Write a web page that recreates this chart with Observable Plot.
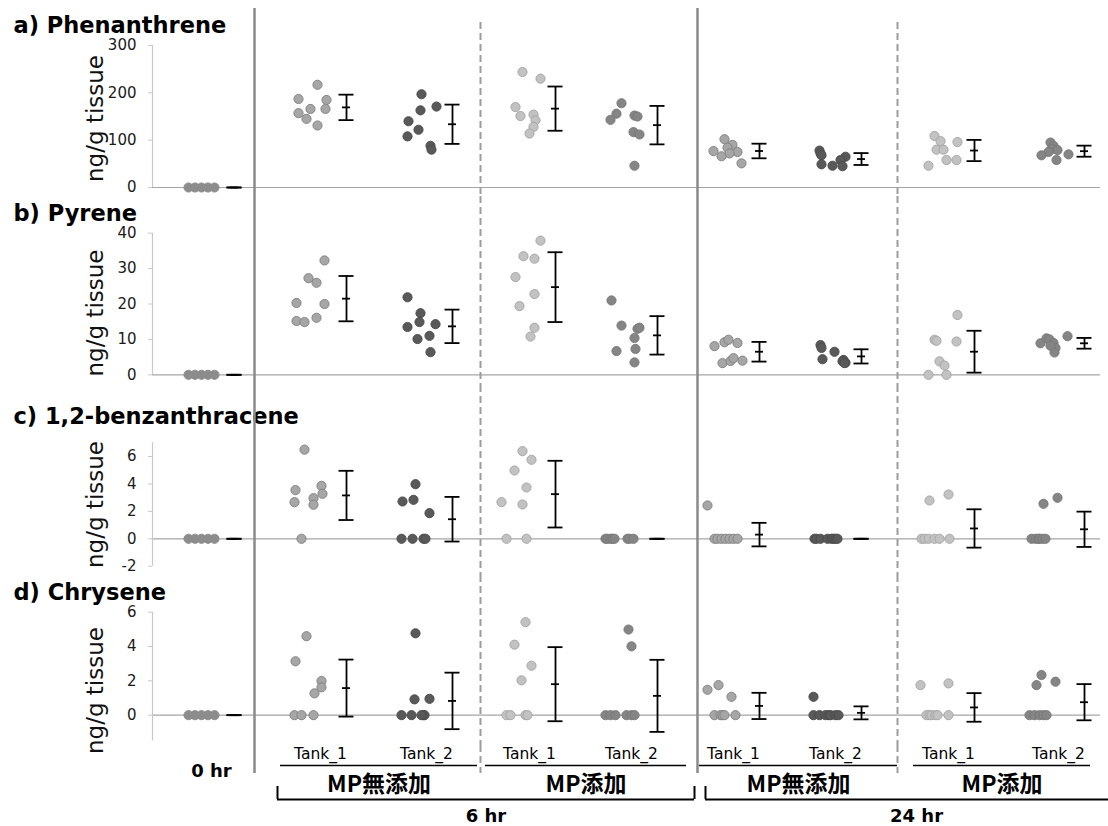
<!DOCTYPE html>
<html>
<head>
<meta charset="utf-8">
<script src="https://cdn.jsdelivr.net/npm/d3@7"></script>
<script src="https://cdn.jsdelivr.net/npm/@observablehq/plot@0.6"></script>
<style>
  body { margin: 0; background: #fff; }
  #chart { position: relative; width: 1108px; height: 826px; overflow: hidden; background: #fff; }
  #chart svg { position: absolute; left: 0; }
</style>
</head>
<body>
<div id="chart"></div>
<script>
// ---- groups (0 hr, then 6 hr and 24 hr tanks with / without MP) ----
const groupNames = ["0 hr", "Tank_1", "Tank_2", "Tank_1", "Tank_2", "Tank_1", "Tank_2", "Tank_1", "Tank_2"];
const groupX = [1, 2.12, 3.18, 4.21, 5.23, 6.25, 7.27, 8.40, 9.50];
const conditionNames = ["MP無添加", "MP添加", "MP無添加", "MP添加"];
const timeNames = ["6 hr", "24 hr"];
const solidDividers = [1.53, 5.96];
const dashedDividers = [3.79, 7.96];

// ---- individual concentrations (ng/g tissue), one list per group ----
const phenanthrene = [
  [0, 0, 0, 0, 0],
  [217, 187, 185, 166, 166, 157, 145, 131],
  [197, 140, 163, 171, 122, 108, 88, 80],
  [244, 230, 170, 151, 154, 142, 128, 114],
  [178, 156, 143, 152, 150, 117, 112, 46],
  [102, 90, 84, 77, 75, 72, 66, 51],
  [78, 72, 68, 65, 58, 49, 46, 45],
  [109, 98, 96, 80, 80, 58, 58, 46],
  [95, 88, 81, 79, 75, 68, 70, 58]
];
const phenanthreneJitter = [
  [-0.13, -0.065, 0, 0.065, 0.13],
  [0.04, -0.15, 0.13, -0.03, 0.12, -0.15, -0.07, 0.04],
  [0.02, -0.11, 0.01, 0.17, -0.01, -0.12, 0.11, 0.12],
  [0, 0.18, -0.07, -0.02, 0.11, 0.13, 0.11, 0.07],
  [-0.03, -0.08, -0.14, 0.10, 0.13, 0.09, 0.15, 0.10],
  [-0.02, 0.06, 0.01, -0.13, 0.11, 0.03, -0.05, 0.15],
  [-0.09, -0.08, -0.07, 0.17, 0.12, -0.07, 0.04, 0.14],
  [-0.07, -0.01, 0.16, -0.05, 0.02, 0.05, 0.15, -0.13],
  [-0.01, 0.02, 0, 0.06, -0.03, -0.10, 0.17, 0.05]
];

const pyrene = [
  [0, 0, 0, 0, 0],
  [32.3, 27.3, 26, 20.3, 20, 15.2, 14.9, 16.1],
  [21.9, 17.4, 14.9, 13.5, 14.3, 10.1, 11, 6.4],
  [37.9, 33.5, 32.8, 27.6, 22.8, 19.4, 13.3, 10.8],
  [21, 13.9, 13, 13.3, 10.4, 6.7, 7.3, 3.5],
  [8.1, 9.2, 9.9, 9, 3.3, 3.9, 4.7, 4],
  [8.4, 7.6, 6.5, 4.4, 4.2, 3.8, 3.4, 3.3],
  [16.9, 9.9, 9.6, 9.4, 3.8, 2.6, 0, 0],
  [8.9, 10.3, 10.0, 9.0, 7.6, 6.3, 10.9, 8.2]
];
const pyreneJitter = [
  [-0.13, -0.065, 0, 0.065, 0.13],
  [0.11, -0.05, 0.03, -0.17, 0.11, -0.17, -0.09, 0.03],
  [-0.12, 0.01, 0, -0.12, 0.16, -0.02, 0.10, 0.11],
  [0.18, 0.01, 0.12, -0.07, 0.12, -0.03, 0.12, 0.08],
  [-0.13, -0.03, 0.13, 0.15, 0.10, -0.08, 0.11, 0.10],
  [-0.12, -0.02, 0.02, 0.11, -0.04, 0.04, 0.07, 0.16],
  [-0.08, -0.07, 0.06, -0.06, 0.15, 0.14, 0.17, 0.16],
  [0.16, -0.07, -0.05, 0.15, -0.02, 0.03, -0.13, 0.05],
  [-0.11, -0.05, -0.02, 0.02, 0.04, 0.03, 0.16, -0.01]
];

const benzanthracene = [
  [0, 0, 0, 0, 0],
  [6.5, 3.55, 3.86, 2.96, 3.28, 2.67, 2.48, 0],
  [3.98, 2.72, 2.84, 1.87, 0, 0, 0, 0],
  [6.39, 5.76, 4.98, 3.74, 2.67, 2.5, 0, 0],
  [0, 0, 0, 0, 0, 0, 0, 0],
  [2.43, 0, 0, 0, 0, 0, 0, 0],
  [0, 0, 0, 0, 0, 0, 0, 0],
  [2.79, 3.23, 0, 0, 0, 0, 0, 0],
  [2.55, 2.99, 0, 0, 0, 0, 0, 0]
];
const benzanthraceneJitter = [
  [-0.13, -0.065, 0, 0.065, 0.13],
  [-0.09, -0.18, 0.08, 0, 0.09, -0.19, 0, -0.12],
  [-0.04, -0.17, -0.06, 0.10, -0.18, -0.07, 0.04, 0.06],
  [0, 0.09, -0.08, 0.04, -0.21, 0, -0.16, 0.04],
  [-0.19, -0.17, -0.14, -0.12, -0.10, 0.03, 0.05, 0.09],
  [-0.19, -0.12, -0.09, -0.05, -0.01, 0.03, 0.07, 0.11],
  [-0.14, -0.12, -0.08, -0.01, 0.03, 0.05, 0.07, 0.09],
  [-0.12, 0.07, -0.20, -0.17, -0.13, -0.07, -0.02, 0.08],
  [-0.08, 0.06, -0.20, -0.16, -0.13, -0.12, -0.09, -0.06]
];

const chrysene = [
  [0, 0, 0, 0, 0],
  [4.6, 3.14, 1.99, 1.62, 1.27, 0, 0, 0],
  [4.77, 0.92, 0.95, 0, 0, 0, 0, 0],
  [5.42, 4.11, 2.88, 2.03, 0, 0, 0, 0],
  [4.99, 4.01, 0, 0, 0, 0, 0, 0],
  [1.48, 1.75, 1.07, 0, 0, 0, 0, 0],
  [1.07, 0, 0, 0, 0, 0, 0, 0],
  [1.75, 1.85, 0, 0, 0, 0, 0, 0],
  [2.34, 1.75, 1.95, 0, 0, 0, 0, 0]
];
const chryseneJitter = [
  [-0.13, -0.065, 0, 0.065, 0.13],
  [-0.07, -0.18, 0.08, 0.08, 0.01, -0.19, -0.12, 0],
  [-0.04, -0.05, 0.10, -0.18, -0.08, 0.04, 0.05, 0.02],
  [0.03, -0.08, 0.09, -0.01, -0.16, -0.12, 0.03, 0.05],
  [0.04, 0.07, -0.19, -0.14, -0.09, 0.02, 0.07, 0.10],
  [-0.19, -0.08, 0.05, -0.12, -0.06, -0.04, -0.02, 0.09],
  [-0.15, -0.15, -0.09, -0.03, 0, 0.02, 0.07, 0.10],
  [-0.21, 0.07, -0.15, -0.12, -0.10, -0.06, -0.04, 0.07],
  [-0.10, -0.15, 0.04, -0.22, -0.17, -0.12, -0.08, -0.05]
];

const yLabel = "ng/g tissue";

// ---- shared styling ----
const W = 1108;
const ML = 152, MR = 8;
const xDomain = [0.51, 9.99];
const barOffset = 0.33, capHalf = 0.075, meanHalf = 0.04;
const fills = ["#8c8c8c", "#a6a6a6", "#595959", "#c2c2c2", "#858585", "#a6a6a6", "#595959", "#c2c2c2", "#858585"];
const strokes = ["#8c8c8c", "#7f7f7f", "#4a4a4a", "#a3a3a3", "#777777", "#7f7f7f", "#4a4a4a", "#a3a3a3", "#777777"];
const latin = "'DejaVu Sans', sans-serif";
const cjk = "'Noto Sans CJK JP', sans-serif";
const solidStyle = {stroke: "#8a8a8a", strokeWidth: 2.5};
const dashedStyle = {stroke: "#9c9c9c", strokeWidth: 2, strokeDasharray: "7,4"};

function panel(cfg) {
  const pts = cfg.values.flatMap((vals, g) =>
    vals.map((v, i) => ({g, x: groupX[g] + cfg.jitter[g][i], v})));
  // error bars: mean ± standard deviation of each group
  const stats = cfg.values.map((vals, g) => {
    const m = d3.mean(vals), s = d3.deviation(vals) || 0;
    return {g, x: groupX[g] + barOffset, m, lo: m - s, hi: m + s};
  });
  const caps = stats.flatMap(d => [{x: d.x, y: d.lo}, {x: d.x, y: d.hi}]);
  const bar = {stroke: "#000", strokeWidth: 1.8};
  return Plot.plot({
    width: W, height: cfg.height,
    marginLeft: ML, marginRight: MR, marginTop: cfg.marginTop, marginBottom: cfg.marginBottom,
    style: {fontFamily: latin, fontSize: "15px", color: "#1a1a1a", background: "transparent"},
    x: {domain: xDomain, axis: null},
    y: {domain: cfg.yDomain, axis: null},
    color: {type: "ordinal", domain: d3.range(groupX.length), range: fills},
    marks: [
      Plot.ruleY([0], {stroke: "#a5a5a5", strokeWidth: 1.2}),
      Plot.ruleX([xDomain[0]], {stroke: "#c8c8c8", strokeWidth: 1.2}),
      Plot.axisY({ticks: cfg.yTicks, tickSize: 4, tickPadding: 12, stroke: "#c8c8c8",
                  tickFormat: d => String(d), label: null}),
      Plot.text([yLabel], {frameAnchor: "left", textAnchor: "middle", rotate: -90, dx: -57, dy: cfg.labelDy,
                           fontSize: 23, fill: "#111"}),
      Plot.text([cfg.title], {frameAnchor: "top-left", dx: 13 - ML, dy: cfg.titleDy,
                              textAnchor: "start", lineAnchor: "bottom",
                              fontSize: 22.5, fontWeight: "bold", fill: "#000"}),
      Plot.ruleX(solidDividers, {...solidStyle, insetTop: -cfg.solidUp, insetBottom: -cfg.down}),
      Plot.ruleX(dashedDividers, {...dashedStyle, insetTop: -cfg.dashedUp, insetBottom: -cfg.down}),
      Plot.dot(pts, {x: "x", y: "v", r: 4.6, fill: "g", stroke: d => strokes[d.g], strokeWidth: 0.9}),
      Plot.ruleX(stats, {x: "x", y1: "lo", y2: "hi", ...bar}),
      Plot.ruleY(caps, {y: "y", x1: d => d.x - capHalf, x2: d => d.x + capHalf, ...bar}),
      Plot.ruleY(stats, {y: "m", x1: d => d.x - meanHalf, x2: d => d.x + meanHalf, ...bar})
    ]
  });
}

const panels = [
  {top: 0, height: 196, marginTop: 45, marginBottom: 9, values: phenanthrene, jitter: phenanthreneJitter,
   title: "a) Phenanthrene", yDomain: [0, 300], yTicks: [0, 100, 200, 300],
   titleDy: -13, labelDy: 2, solidUp: 37, dashedUp: 23, down: 9},
  {top: 196, height: 189, marginTop: 36.7, marginBottom: 10.7, values: pyrene, jitter: pyreneJitter,
   title: "b) Pyrene", yDomain: [0, 40], yTicks: [0, 10, 20, 30, 40],
   titleDy: -12.7, labelDy: 9, solidUp: 36.7, dashedUp: 36.7, down: 10.7},
  {top: 385, height: 190, marginTop: 57.3, marginBottom: 9.3, values: benzanthracene, jitter: benzanthraceneJitter,
   title: "c) 1,2-benzanthracene", yDomain: [-2, 7], yTicks: [-2, 0, 2, 4, 6],
   titleDy: -19.3, labelDy: 0, solidUp: 57.3, dashedUp: 57.3, down: 9.3},
  // the last panel reaches the bottom of the figure so its axis title can run below the frame;
  // the category labels are laid over its lower margin
  {top: 575, height: 251, marginTop: 36.7, marginBottom: 85.6, values: chrysene, jitter: chryseneJitter,
   title: "d) Chrysene", yDomain: [-1.5, 6], yTicks: [0, 2, 4, 6],
   titleDy: -12.7, labelDy: 14, solidUp: 36.7, dashedUp: 36.7, down: 4.6}
];

const root = document.getElementById("chart");
for (const cfg of panels) {
  const svg = panel(cfg);
  svg.style.top = cfg.top + "px";
  root.appendChild(svg);
}

// ---- category labels under the panels ----
const rows = {tank: 9, line: 20, zero: 26, divEnd: 28, cond: 39, brkTop: 41, brk: 54, time: 71};
const underlines = [[1.79, 3.76], [3.84, 5.85], [5.98, 7.96], [8.12, 9.89]]
  .map(([x1, x2], i) => ({name: conditionNames[i], x1, x2}));
const brackets = [
  {name: timeNames[0], x1: groupX[1] - 0.36, x2: solidDividers[1] - 0.03},
  {name: timeNames[1], x1: solidDividers[1] + 0.08, x2: groupX[8] + 0.76}
];
const annot = Plot.plot({
  width: W, height: 81, marginLeft: ML, marginRight: MR, marginTop: 0, marginBottom: 0,
  style: {fontFamily: latin, color: "#000", background: "transparent"},
  x: {domain: xDomain, axis: null},
  y: {domain: [0, 81], range: [0, 81], axis: null},
  marks: [
    Plot.ruleX(solidDividers, {...solidStyle, y1: 0, y2: rows.divEnd}),
    Plot.ruleX(dashedDividers, {...dashedStyle, y1: 0, y2: rows.divEnd}),
    Plot.text(d3.range(1, groupX.length), {x: g => groupX[g] + 0.07, y: () => rows.tank,
      text: g => groupNames[g], fontSize: 15.5, fill: "#000"}),
    Plot.text([0], {x: g => groupX[g] + 0.1, y: () => rows.zero, text: g => groupNames[g],
      fontSize: 18, fontWeight: "bold", fill: "#000"}),
    Plot.ruleY(underlines, {x1: "x1", x2: "x2", y: () => rows.line, stroke: "#000", strokeWidth: 1.5}),
    Plot.text(underlines, {x: d => (d.x1 + d.x2) / 2, y: () => rows.cond, text: "name",
      fontFamily: cjk, fontSize: 23, fontWeight: "bold", fill: "#000"}),
    Plot.ruleY(brackets, {x1: "x1", x2: "x2", y: () => rows.brk, stroke: "#000", strokeWidth: 2}),
    Plot.ruleX(brackets.flatMap(d => [d.x1, d.x2]), {y1: rows.brkTop, y2: rows.brk, stroke: "#000", strokeWidth: 2}),
    Plot.text(brackets, {x: d => (d.x1 + d.x2) / 2, y: () => rows.time, text: "name",
      fontSize: 18, fontWeight: "bold", fill: "#000"})
  ]
});
annot.style.top = "745px";
root.appendChild(annot);
</script>
</body>
</html>
